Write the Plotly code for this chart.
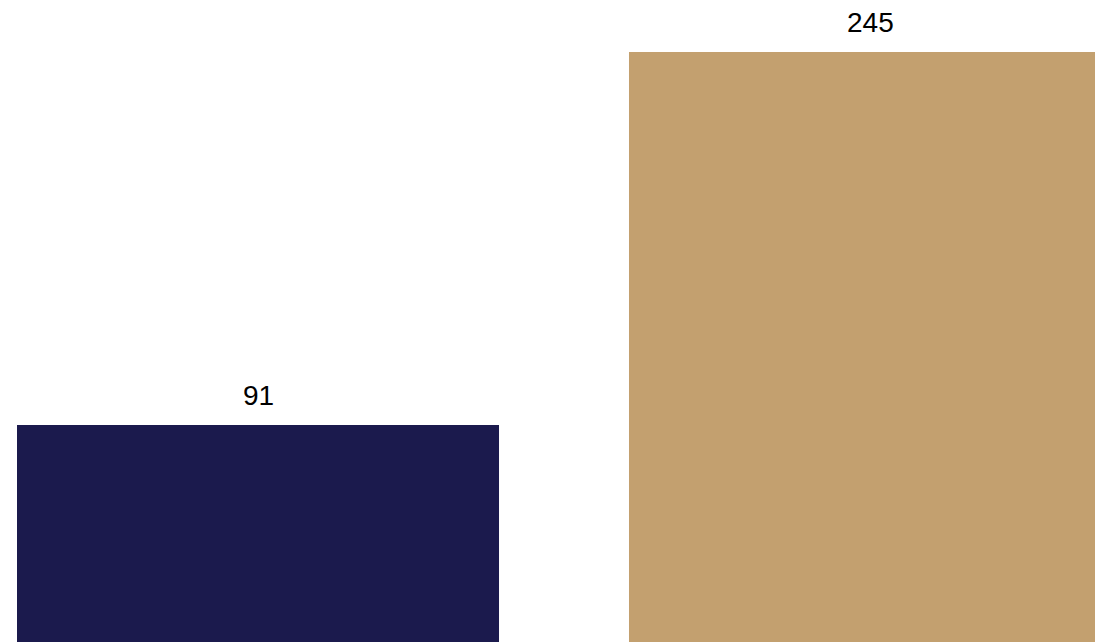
import plotly.graph_objects as go

categories = ["A", "B"]
values = [91, 245]
labels = ["91", "245"]
colors = ["#1b1a4d", "#c3a06f"]

x_pos = list(range(len(categories)))

fig = go.Figure(
    go.Bar(
        x=x_pos,
        y=values,
        width=0.7876,
        marker=dict(color=colors, line=dict(width=0)),
        hoverinfo="skip",
    )
)

for xi, v, lab in zip(x_pos, values, labels):
    fig.add_annotation(
        x=xi, y=v, text=lab, showarrow=False,
        xanchor="center", yanchor="bottom", yshift=12,
        font=dict(family="Liberation Sans, Arial, sans-serif", size=28, color="#000000"),
    )

fig.update_layout(
    width=1095,
    height=642,
    margin=dict(l=0, r=0, t=0, b=0),
    paper_bgcolor="white",
    plot_bgcolor="white",
    showlegend=False,
    hovermode=False,
    xaxis=dict(visible=False, range=[-0.42157, 1.36765]),
    yaxis=dict(visible=False, range=[1.40, 266.47]),
)

fig.write_html(
    "out.html",
    config={"displayModeBar": False, "staticPlot": True},
    post_script="document.body.style.margin='0';document.documentElement.style.overflow='hidden';",
)
